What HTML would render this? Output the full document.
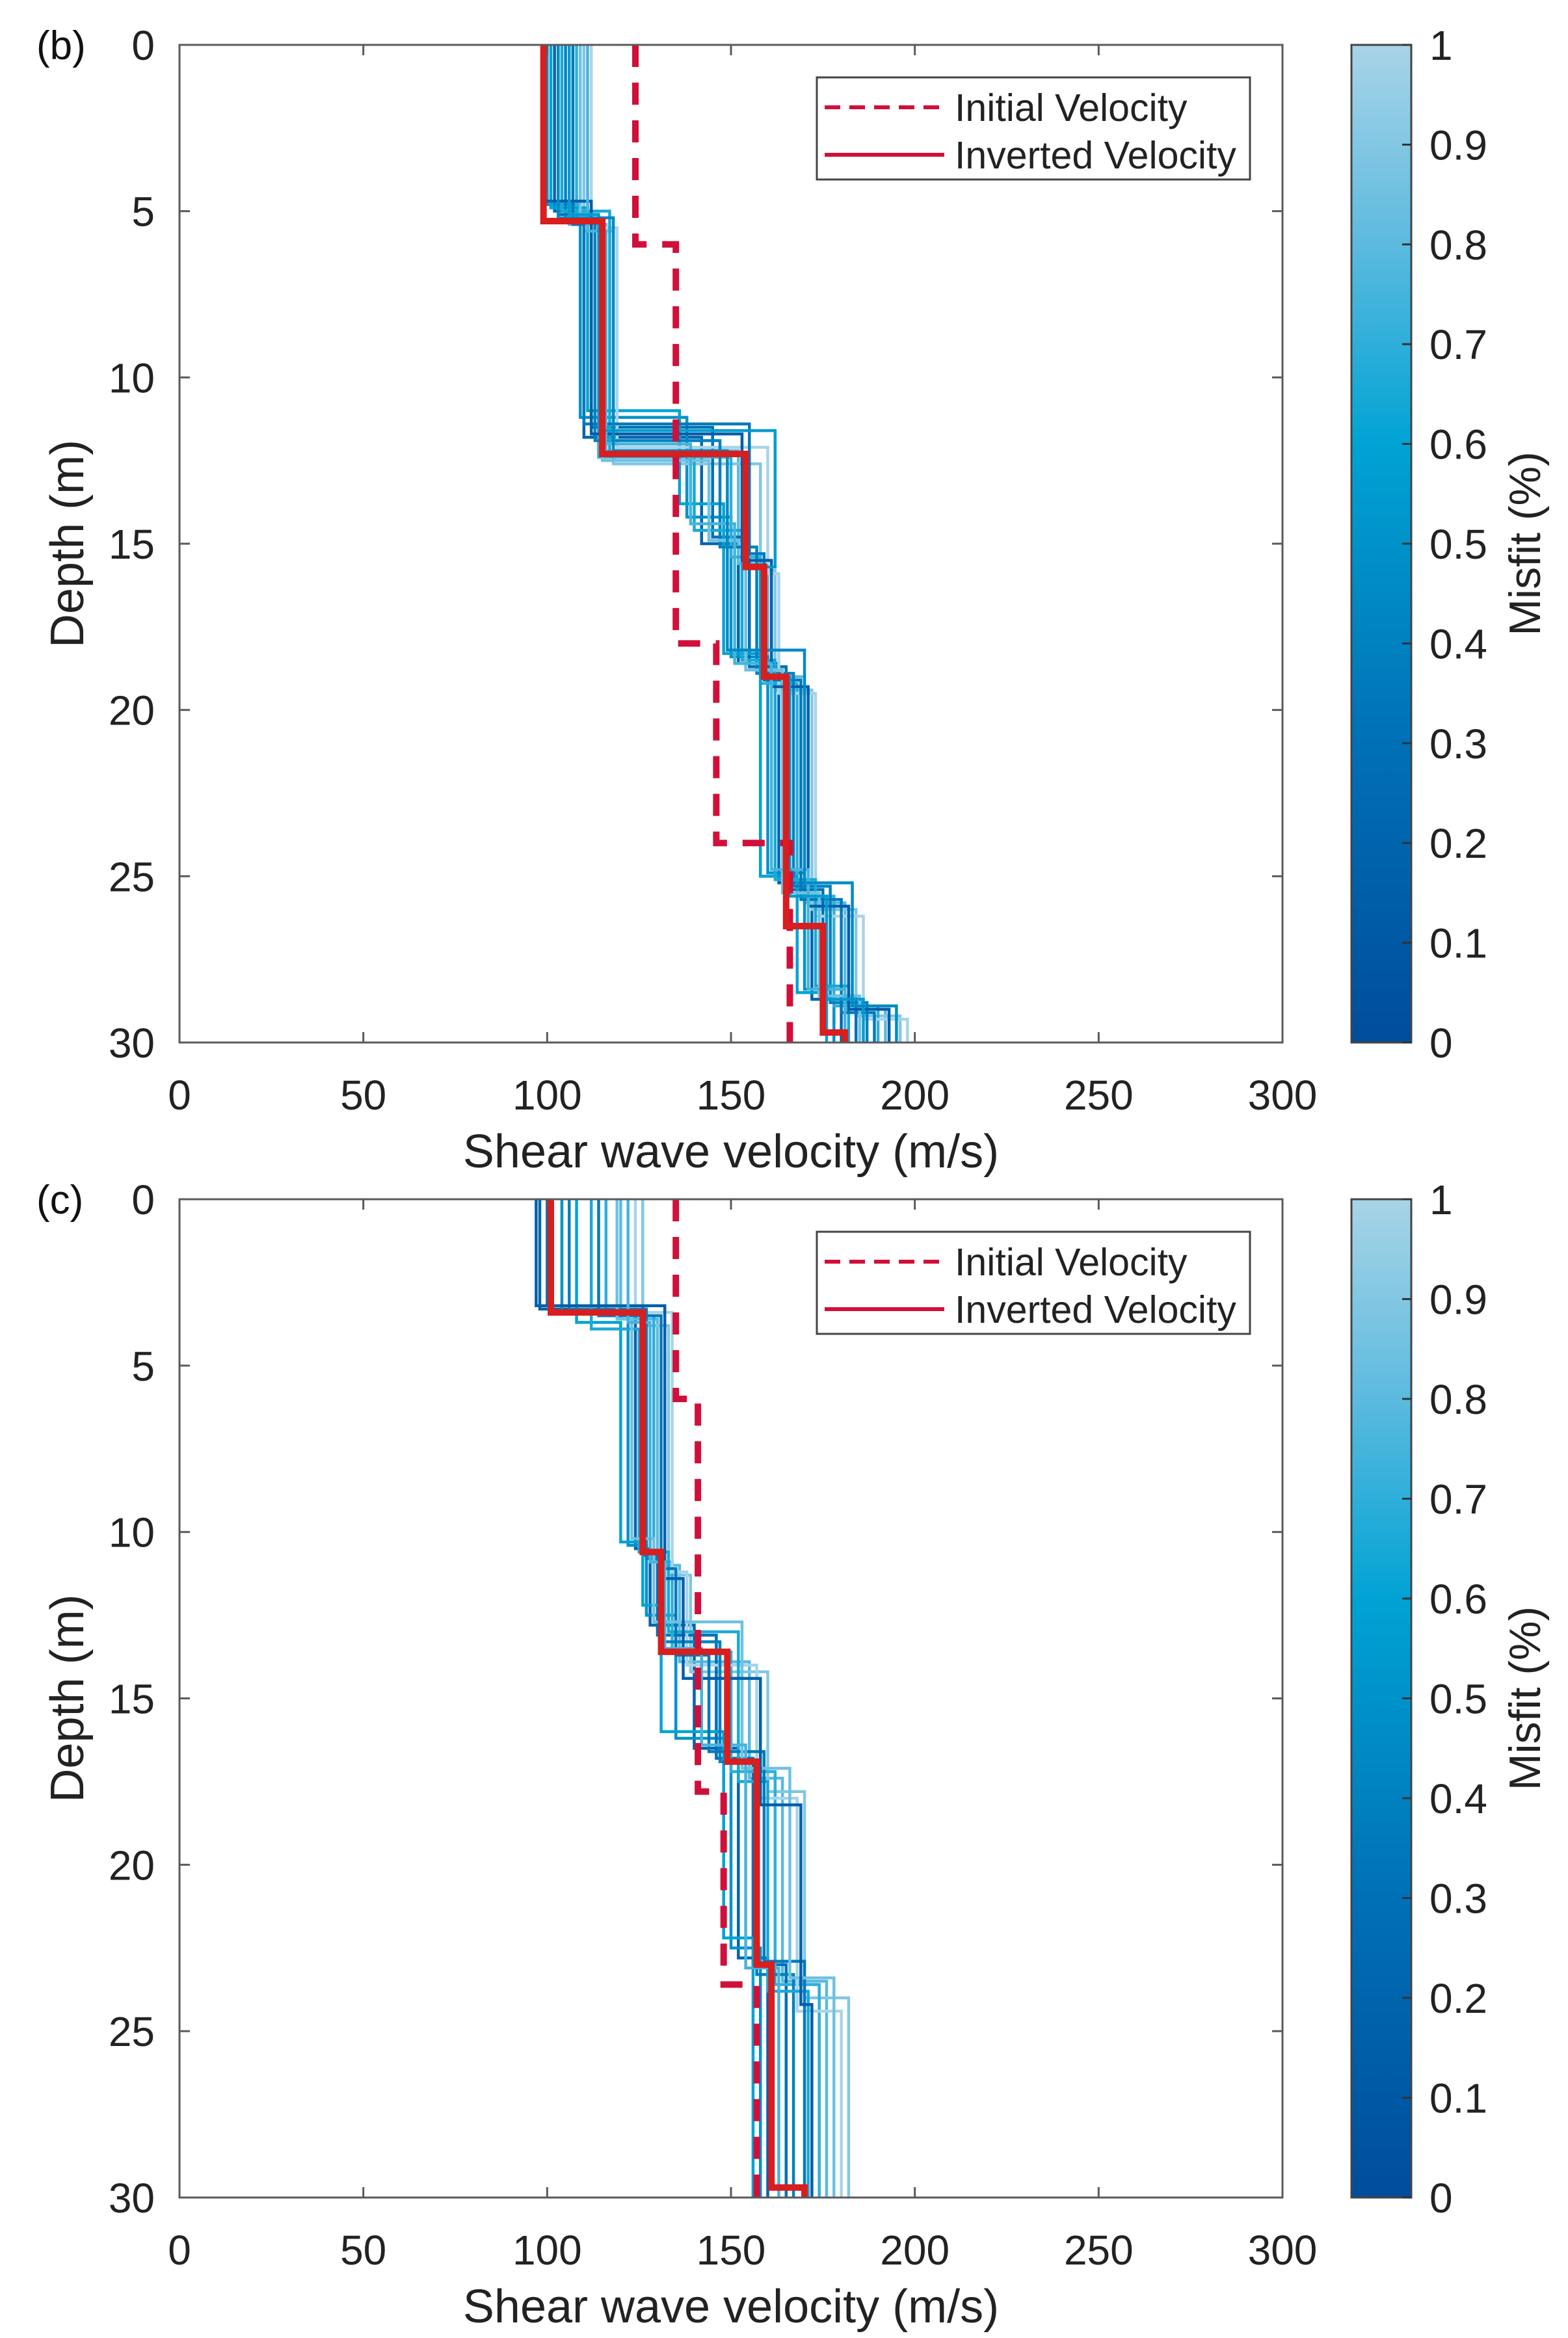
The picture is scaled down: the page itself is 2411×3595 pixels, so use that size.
<!DOCTYPE html>
<html><head><meta charset="utf-8"><style>
html,body{margin:0;padding:0;background:#fff;}
svg{display:block;font-family:"Liberation Sans",Arial,sans-serif;}
</style></head><body>
<svg id="fig" width="2411" height="3595" viewBox="0 0 2411 3595" xmlns="http://www.w3.org/2000/svg">
<defs>
<linearGradient id="cmap" x1="0" y1="1" x2="0" y2="0">
<stop offset="0" stop-color="#004d9c"/>
<stop offset="0.3" stop-color="#0070b6"/>
<stop offset="0.6" stop-color="#00a3d4"/>
<stop offset="0.8" stop-color="#5cbadf"/>
<stop offset="1" stop-color="#a8d4e7"/>
</linearGradient>
<clipPath id="clipB"><rect x="276" y="69" width="1696" height="1534"/></clipPath>
<clipPath id="clipC"><rect x="276" y="1844" width="1696" height="1535"/></clipPath>
</defs>
</svg>
<script>
// ---------- data ----------
const xTicks = [0,50,100,150,200,250,300];
const yTicks = [0,5,10,15,20,25,30];
const cbTicks = [0,0.1,0.2,0.3,0.4,0.5,0.6,0.7,0.8,0.9,1];

// panel (b)
const bInvDepths = [5.3,12.3,15.7,19.0,26.5,29.7];
const bInvVels = [99,115,154,159,165,175,181];
const bInitDepths = [6,18,24];
const bInitVels = [124,135,146,166];
const bEnsDepths = [
[5.0,11.8,15.0,18.6,25.2,28.7],[5.4,12.2,15.6,19.0,25.8,29.0],[4.8,11.2,14.2,18.4,24.9,28.4],
[5.6,12.6,15.8,19.4,26.0,29.2],[5.1,11.5,14.8,18.7,25.4,28.6],[5.3,12.4,15.4,19.2,25.6,28.9],
[4.9,11.0,13.8,18.3,25.0,28.5],[5.5,12.1,15.9,19.5,26.2,29.3],[5.2,11.9,15.1,18.9,25.3,28.8],
[5.0,12.3,14.6,18.5,25.1,28.3],[5.4,11.4,15.3,19.1,25.7,29.1],[5.3,12.5,14.9,18.8,25.5,28.6],
[4.7,11.7,15.5,19.3,25.9,29.0],[5.6,12.0,14.4,18.6,24.8,28.4],[5.1,11.6,15.7,19.0,25.6,28.7],
[5.2,12.2,15.2,18.2,25.2,28.9]];
const bEnsVels = [
[102,110,142,152,163,172,180],[106,116,152,160,170,181,192],[100,109,138,150,160,170,178],
[110,118,158,162,172,184,196],[103,112,145,155,165,175,184],[108,114,150,158,168,178,190],
[101,111,136,148,158,168,176],[112,119,160,163,173,186,198],[105,113,147,157,167,177,187],
[104,117,140,153,162,173,182],[107,110,155,159,169,180,189],[109,115,144,154,164,174,185],
[99,112,153,161,171,182,193],[111,116,139,151,161,171,181],[106,114,162,158,166,176,186],
[103,118,149,149,170,183,195]];
const bEnsMisfit = [0.2,0.8,0.5,0.9,0.3,0.7,0.6,1.0,0.4,0.65,0.35,0.85,0.15,0.75,0.55,0.45];

// panel (c)
const cInvDepths = [3.4,10.6,13.6,16.9,23.0,29.7];
const cInvVels = [101,126,131,149,157,161,170];
const cInitDepths = [6,17.8,23.6];
const cInitVels = [135,141,148,157];
const cEnsDepths = [
[3.3,10.5,12.8,16.5,22.8],[3.6,11.0,13.9,17.4,23.5],[3.4,10.4,12.5,16.2,22.5],
[3.8,11.3,14.2,17.8,24.0],[3.2,10.7,13.1,16.8,23.0],[3.5,10.9,13.6,17.2,23.6],
[3.7,10.3,12.2,16.0,22.2],[3.4,11.2,14.0,18.0,24.4],[3.3,10.8,13.3,16.9,23.3],
[3.9,10.6,13.0,17.5,23.8],[3.5,11.1,13.7,16.6,22.9],[3.6,10.2,12.7,17.1,23.4],
[3.2,11.4,14.4,18.2,24.2],[3.7,10.9,13.5,16.4,23.1]];
const cEnsVels = [
[98,124,128,140,152,160],[120,130,136,155,164,176],[104,122,127,135,150,158],
[126,133,139,160,170,182],[100,126,130,146,156,165],[116,129,134,150,162,174],
[108,120,126,131,148,156],[124,134,138,157,168,180],[106,127,131,147,157,167],
[112,125,133,152,160,171],[114,131,135,144,159,170],[119,123,129,153,166,178],
[97,132,137,158,169,172],[122,128,132,142,154,163]];
const cEnsMisfit = [0.2,0.8,0.5,0.9,0.3,0.7,0.6,1.0,0.4,0.65,0.35,0.85,0.15,0.75];

// ---------- drawing ----------
const NS = "http://www.w3.org/2000/svg";
const svg = document.getElementById('fig');
function mk(tag, attrs, parent){
  const e = document.createElementNS(NS, tag);
  for (const k in attrs) e.setAttribute(k, attrs[k]);
  (parent||svg).appendChild(e);
  return e;
}
const X0 = 276, X1 = 1972, XMAX = 300, DMAX = 30;
function xs(v){ return X0 + v/XMAX*(X1-X0); }
function cmapColor(t){
  const stops=[[0,[0,77,156]],[0.3,[0,112,182]],[0.6,[0,163,212]],[0.8,[92,186,223]],[1,[168,212,231]]];
  for(let i=1;i<stops.length;i++){
    if(t<=stops[i][0]){
      const a=stops[i-1],b=stops[i],f=(t-a[0])/(b[0]-a[0]);
      const c=a[1].map((v,j)=>Math.round(v+(b[1][j]-v)*f));
      return 'rgb('+c.join(',')+')';
    }
  }
  return 'rgb(168,212,231)';
}
function stepPath(depths, vels, ys){
  let d = 'M'+xs(vels[0])+','+ys(0);
  for (let i=0;i<depths.length;i++){
    d += ' L'+xs(vels[i])+','+ys(depths[i])+' L'+xs(vels[i+1])+','+ys(depths[i]);
  }
  d += ' L'+xs(vels[vels.length-1])+','+ys(DMAX);
  return d;
}

function panel(p){
  const Y0=p.y0, Y1=p.y1;
  const ys = d => Y0 + d/DMAX*(Y1-Y0);
  const g = mk('g',{});
  
  

  const eg = mk('g',{'clip-path':'url(#'+p.clip+')'}, g);
  
  
  p.ensD.forEach((dep,i)=>{
    const path = mk('path',{d:stepPath(dep,p.ensV[i],ys),fill:'none',stroke:cmapColor(p.ensM[i]),'stroke-width':4.5}, eg);
    
    
  });
  const ini = mk('path',{d:stepPath(p.initD,p.initV,ys),fill:'none',stroke:'#d0103a','stroke-width':10,'stroke-dasharray':'34 24','clip-path':'url(#'+p.clip+')'}, g);
  
  
  const inv = mk('path',{d:stepPath(p.invD,p.invV,ys),fill:'none',stroke:'#d81e1e','stroke-width':10,'clip-path':'url(#'+p.clip+')'}, g);
  
  

  const box = mk('rect',{x:X0,y:Y0,width:X1-X0,height:Y1-Y0,fill:'none',stroke:'#5a5a5a','stroke-width':3}, g);
  
  
  xTicks.forEach(t=>{
    const x=xs(t);
    mk('line',{x1:x,y1:Y1,x2:x,y2:Y1-16,stroke:'#5a5a5a','stroke-width':3},g);
    mk('line',{x1:x,y1:Y0,x2:x,y2:Y0+16,stroke:'#5a5a5a','stroke-width':3},g);
    const tx = mk('text',{x:x,y:Y1+103,'font-size':64,'text-anchor':'middle',fill:'#222'},g);
    tx.textContent = t;
    
    
  });
  yTicks.forEach(t=>{
    const y=ys(t);
    mk('line',{x1:X0,y1:y,x2:X0+16,y2:y,stroke:'#5a5a5a','stroke-width':3},g);
    mk('line',{x1:X1,y1:y,x2:X1-16,y2:y,stroke:'#5a5a5a','stroke-width':3},g);
    const ty = mk('text',{x:238,y:y+23,'font-size':64,'text-anchor':'end',fill:'#222'},g);
    ty.textContent = t;
    
    
  });
  const xl = mk('text',{x:(X0+X1)/2,y:Y1+192,'font-size':72,'text-anchor':'middle',fill:'#222'},g);
  xl.textContent='Shear wave velocity (m/s)';
  
  
  const yc=(Y0+Y1)/2;
  const yl = mk('text',{x:0,y:0,'font-size':72,'text-anchor':'middle',fill:'#222',transform:'translate(128,'+yc+') rotate(-90)'},g);
  yl.textContent='Depth (m)';
  
  
  const pl = mk('text',{x:56,y:Y0+22,'font-size':62,fill:'#111'},g);
  pl.textContent=p.label;
  
  

  const lg = mk('g',{},g);
  
  
  const LY=Y0+50;
  mk('rect',{x:1256,y:LY,width:666,height:157,fill:'#fff',stroke:'#444','stroke-width':3},lg);
  mk('line',{x1:1268,y1:LY+46,x2:1452,y2:LY+46,stroke:'#d0103a','stroke-width':6,'stroke-dasharray':'24 14'},lg);
  mk('line',{x1:1268,y1:LY+119,x2:1452,y2:LY+119,stroke:'#d0103a','stroke-width':6},lg);
  const t1=mk('text',{x:1468,y:LY+67,'font-size':59,fill:'#222'},lg);
  t1.textContent='Initial Velocity';
  
  
  const t2=mk('text',{x:1468,y:LY+140,'font-size':59,fill:'#222'},lg);
  t2.textContent='Inverted Velocity';
  
  

  const cb = mk('g',{},g);
  
  
  mk('rect',{x:2078,y:Y0,width:92,height:Y1-Y0,fill:'url(#cmap)',stroke:'#444','stroke-width':3},cb);
  cbTicks.forEach(t=>{
    const y = Y1 - t*(Y1-Y0);
    mk('line',{x1:2170,y1:y,x2:2156,y2:y,stroke:'#333','stroke-width':3},cb);
    const ct = mk('text',{x:2198,y:y+23,'font-size':64,fill:'#222'},cb);
    ct.textContent = String(t);
    
    
  });
  const ml = mk('text',{x:0,y:0,'font-size':68,'text-anchor':'middle',fill:'#222',transform:'translate(2368,'+(Y0+(Y1-Y0)*0.5)+') rotate(-90)'},cb);
  ml.textContent='Misfit (%)';
  
  
}

panel({id:'panel-b',label:'(b)',y0:69,y1:1603,clip:'clipB',ensD:bEnsDepths,ensV:bEnsVels,ensM:bEnsMisfit,
  invD:bInvDepths,invV:bInvVels,initD:bInitDepths,initV:bInitVels});
panel({id:'panel-c',label:'(c)',y0:1844,y1:3379,clip:'clipC',ensD:cEnsDepths,ensV:cEnsVels,ensM:cEnsMisfit,
  invD:cInvDepths,invV:cInvVels,initD:cInitDepths,initV:cInitVels});
</script>
</body></html>
